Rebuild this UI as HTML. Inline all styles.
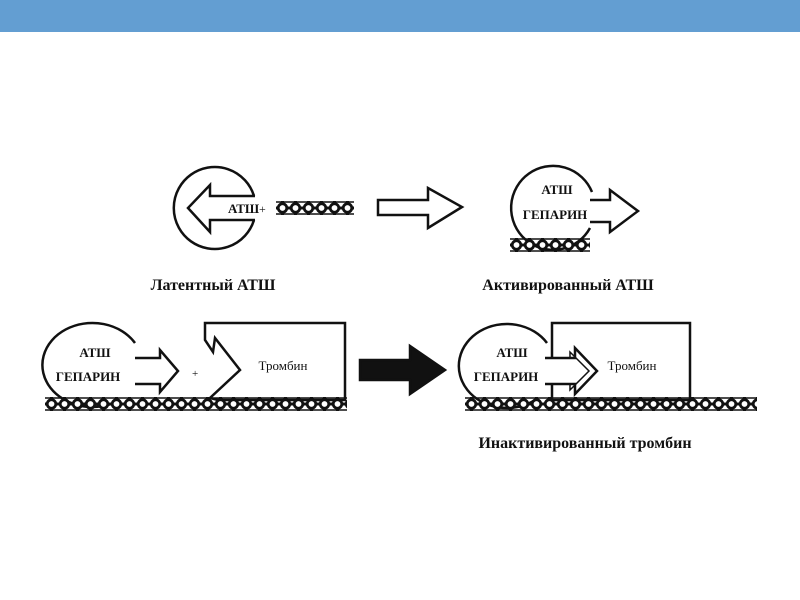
<!DOCTYPE html>
<html><head><meta charset="utf-8"><style>
html,body{margin:0;padding:0;background:#fff;width:800px;height:600px;overflow:hidden}
</style></head><body>
<svg width="800" height="600" viewBox="0 0 800 600" xmlns="http://www.w3.org/2000/svg" font-family="Liberation Serif, serif">
<defs>
<pattern id="ch" x="0" y="0" width="13" height="16" patternUnits="userSpaceOnUse">
<line x1="0" y1="8" x2="13" y2="8" stroke="#111" stroke-width="3"/>
<circle cx="6.5" cy="8" r="4.3" fill="#fff" stroke="#111" stroke-width="2.8"/>
<line x1="6.5" y1="1" x2="6.5" y2="4" stroke="#111" stroke-width="3"/>
<line x1="6.5" y1="12" x2="6.5" y2="15" stroke="#111" stroke-width="3"/>
<line x1="0" y1="2" x2="13" y2="2" stroke="#111" stroke-width="1.5"/>
<line x1="0" y1="14" x2="13" y2="14" stroke="#111" stroke-width="1.5"/>
</pattern>
</defs>
<rect x="0" y="0" width="800" height="32" fill="#639ed2"/>
<g transform="translate(276,200)"><rect width="78" height="16" fill="url(#ch)"/></g>
<g stroke="#111" stroke-width="2.5" fill="#fff">
<path d="M254,196 A41,41 0 1 0 254,220"/>
<path d="M255,196 H210 V185 L188,208 L210,232 V220 H255" />
<path d="M378,200 H428 V188 L462,207 L428,228 V215 H378 Z"/>
<path d="M592,192 A42,42 0 1 0 590,228" />
<path d="M590,200 H610 V190 L638,211 L610,232 V222 H590"/>
<path d="M135,343 A50,42 0 1 0 120,400" />
<path d="M135,358 H160 V350 L178,371 L160,392 V384 H135"/>
<path d="M205,340 V323 H345 V400 H218 L210,398 L240,370 L215,338 L213,352 Z"/>
<path d="M360,360 H410 V346 L445,370 L410,394 V380 H360 Z" fill="#111"/>
<rect x="552" y="323" width="138" height="77"/>
<path d="M547,343 A48,42 0 1 0 535,400" fill="#fff"/>
<path d="M545,358 H575 V348 L597,371 L575,394 V384 H545"/>
<path d="M552,358 H570 V352 L589,371 L570,390 V384 H552" fill="none" stroke-width="1.5"/>
</g>
<g transform="translate(510,237)"><rect width="80" height="16" fill="url(#ch)"/></g>
<g transform="translate(45,396)"><rect width="302" height="16" fill="url(#ch)"/></g>
<g transform="translate(465,396)"><rect width="292" height="16" fill="url(#ch)"/></g>
<g fill="#111" font-weight="bold">
<text x="228" y="213" font-size="13">АТШ</text>
<text x="259" y="213" font-size="12" font-weight="normal">+</text>
<text x="557" y="194" font-size="13" text-anchor="middle">АТШ</text>
<text x="555" y="219" font-size="13" text-anchor="middle">ГЕПАРИН</text>
<text x="213" y="290" font-size="16" text-anchor="middle">Латентный АТШ</text>
<text x="568" y="290" font-size="16" text-anchor="middle">Активированный АТШ</text>
<text x="95" y="357" font-size="13" text-anchor="middle">АТШ</text>
<text x="88" y="381" font-size="13" text-anchor="middle">ГЕПАРИН</text>
<text x="192" y="377" font-size="11" font-weight="normal">+</text>
<text x="283" y="370" font-size="13" text-anchor="middle" font-weight="normal">Тромбин</text>
<text x="512" y="357" font-size="13" text-anchor="middle">АТШ</text>
<text x="506" y="381" font-size="13" text-anchor="middle">ГЕПАРИН</text>
<text x="632" y="370" font-size="13" text-anchor="middle" font-weight="normal">Тромбин</text>
<text x="585" y="448" font-size="16" text-anchor="middle">Инактивированный тромбин</text>
</g>
</svg>
</body></html>
